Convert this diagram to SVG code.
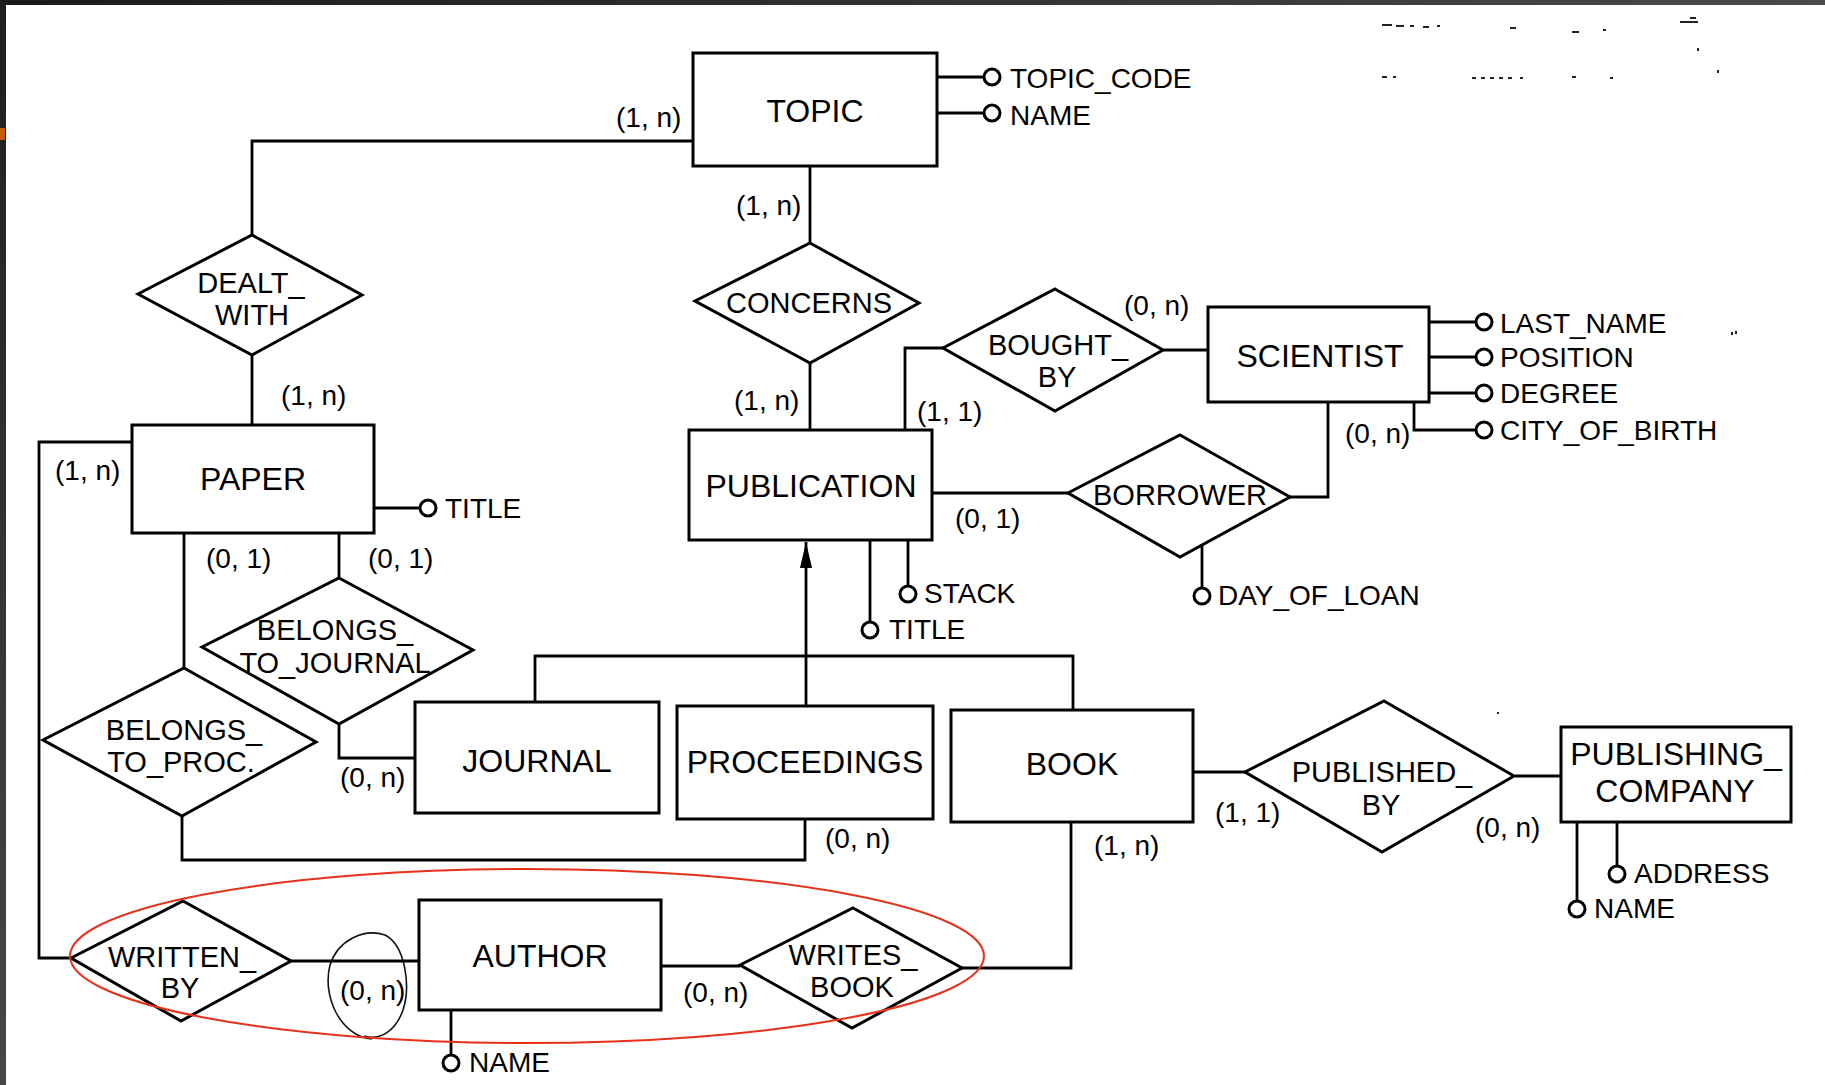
<svg xmlns="http://www.w3.org/2000/svg" width="1825" height="1085" viewBox="0 0 1825 1085">
<defs>
<style>
.box{fill:#fff;stroke:#000;stroke-width:3}
.dia{fill:#fff;stroke:#000;stroke-width:3;stroke-linejoin:miter}
.ln{fill:none;stroke:#000;stroke-width:2.8}
.att{fill:#fff;stroke:#000;stroke-width:3}
text{font-family:"Liberation Sans",Arial,Helvetica,sans-serif;fill:#000}
.en{font-size:32px;text-anchor:middle}
.rl{font-size:29px;text-anchor:middle}
.at{font-size:28px}
.cd{font-size:28px}
.noise{stroke:#222;stroke-width:2;fill:none}
</style>
<linearGradient id="topbar" x1="0" y1="0" x2="1" y2="0">
<stop offset="0" stop-color="#1a1a1a"/><stop offset="1" stop-color="#4a4a4a"/>
</linearGradient>
<linearGradient id="leftbar" x1="0" y1="0" x2="0" y2="1">
<stop offset="0" stop-color="#1e1e1e"/><stop offset="1" stop-color="#474747"/>
</linearGradient>
<marker id="isa" markerUnits="userSpaceOnUse" markerWidth="26" markerHeight="12" viewBox="0 0 26 12" refX="26" refY="6" orient="auto">
<path d="M0,0 L26,6 L0,12 z" fill="#000"/>
</marker>
</defs>
<rect x="0" y="0" width="1825" height="1085" fill="#fff"/>
<rect x="0" y="0" width="1825" height="5" fill="url(#topbar)"/>
<rect x="0" y="0" width="6" height="1085" fill="url(#leftbar)"/>
<rect x="0" y="128" width="5" height="12" fill="#c85a10"/>

<g id="scan-noise">
<path class="noise" d="M1382,25 h10 M1396,26 h8 M1410,26 h4 M1423,27 h6 M1437,26 h3 M1510,28 h6 M1572,32 h7 M1603,30 h3 M1680,22 h18 M1690,18 h6 M1382,77 h5 M1393,77 h3 M1472,78 h4 M1481,78 h4 M1490,78 h4 M1499,78 h4 M1508,78 h4 M1520,78 h3 M1572,77 h4 M1610,78 h3 M1718,70 v3 M1698,48 v3 M1732,332 v3 M1736,331 v3 M1498,712 v2"/>
</g>

<g id="connectors">
<path class="ln" d="M252,235 V141 H693"/>
<path class="ln" d="M252,355 V425"/>
<path class="ln" d="M810,166 V243"/>
<path class="ln" d="M810,363 V430"/>
<path class="ln" d="M943,348 H905 V430"/>
<path class="ln" d="M1163,350 H1208"/>
<path class="ln" d="M932,493 H1068"/>
<path class="ln" d="M1290,497 H1328 V402"/>
<path class="ln" d="M806,706 V542" marker-end="url(#isa)"/>
<path class="ln" d="M535,702 V656 H1073 V710"/>
<path class="ln" d="M132,442 H39 V958 H71"/>
<path class="ln" d="M184,533 V668"/>
<path class="ln" d="M339,533 V578"/>
<path class="ln" d="M339,724 V758 H415"/>
<path class="ln" d="M182,816 V860 H805 V819"/>
<path class="ln" d="M291,961 H419"/>
<path class="ln" d="M661,966 H740"/>
<path class="ln" d="M962,968 H1071 V822"/>
<path class="ln" d="M1193,772 H1245"/>
<path class="ln" d="M1515,776 H1561"/>
<path class="ln" d="M937,77 H983 M937,113 H983"/>
<path class="ln" d="M1429,322 H1475 M1429,357 H1475 M1429,393 H1475 M1414,402 V430 H1475"/>
<path class="ln" d="M374,508 H419"/>
<path class="ln" d="M908,540 V585 M870,540 V621"/>
<path class="ln" d="M1202,545 V587"/>
<path class="ln" d="M1577,822 V900 M1617,822 V865"/>
<path class="ln" d="M451,1010 V1054"/>
</g>

<g id="attribute-circles">
<circle class="att" cx="992" cy="77" r="8"/>
<circle class="att" cx="992" cy="113" r="8"/>
<circle class="att" cx="1484" cy="322" r="8"/>
<circle class="att" cx="1484" cy="357" r="8"/>
<circle class="att" cx="1484" cy="393" r="8"/>
<circle class="att" cx="1484" cy="430" r="8"/>
<circle class="att" cx="428" cy="508" r="8"/>
<circle class="att" cx="908" cy="594" r="8"/>
<circle class="att" cx="870" cy="630" r="8"/>
<circle class="att" cx="1202" cy="596" r="8"/>
<circle class="att" cx="1577" cy="909" r="8"/>
<circle class="att" cx="1617" cy="874" r="8"/>
<circle class="att" cx="451" cy="1063" r="8"/>
</g>

<g id="TOPIC">
<rect class="box" x="693" y="53" width="244" height="113"/>
<text class="en" x="815" y="122">TOPIC</text>
<text class="at" x="1010" y="88">TOPIC_CODE</text>
<text class="at" x="1010" y="125">NAME</text>
</g>
<g id="PAPER">
<rect class="box" x="132" y="425" width="242" height="108"/>
<text class="en" x="253" y="490">PAPER</text>
<text class="at" x="445" y="518">TITLE</text>
</g>
<g id="PUBLICATION">
<rect class="box" x="689" y="430" width="243" height="110"/>
<text class="en" x="811" y="497">PUBLICATION</text>
<text class="at" x="924" y="603">STACK</text>
<text class="at" x="889" y="639">TITLE</text>
</g>
<g id="SCIENTIST">
<rect class="box" x="1208" y="307" width="221" height="95"/>
<text class="en" x="1320" y="367">SCIENTIST</text>
<text class="at" x="1500" y="333">LAST_NAME</text>
<text class="at" x="1500" y="367">POSITION</text>
<text class="at" x="1500" y="403">DEGREE</text>
<text class="at" x="1500" y="440">CITY_OF_BIRTH</text>
</g>
<g id="JOURNAL">
<rect class="box" x="415" y="702" width="244" height="111"/>
<text class="en" x="537" y="772">JOURNAL</text>
</g>
<g id="PROCEEDINGS">
<rect class="box" x="677" y="706" width="256" height="113"/>
<text class="en" x="805" y="773">PROCEEDINGS</text>
</g>
<g id="BOOK">
<rect class="box" x="951" y="710" width="242" height="112"/>
<text class="en" x="1072" y="775">BOOK</text>
</g>
<g id="PUBLISHING_COMPANY">
<rect class="box" x="1561" y="727" width="230" height="95"/>
<text class="en" x="1676" y="765">PUBLISHING_</text>
<text class="en" x="1675" y="802">COMPANY</text>
<text class="at" x="1634" y="883">ADDRESS</text>
<text class="at" x="1594" y="918">NAME</text>
</g>
<g id="AUTHOR">
<rect class="box" x="419" y="900" width="242" height="110"/>
<text class="en" x="540" y="967">AUTHOR</text>
<text class="at" x="469" y="1072">NAME</text>
</g>

<g id="DEALT_WITH">
<polygon class="dia" points="252,235 362,295 252,355 138,294"/>
<text class="rl" x="251" y="293">DEALT_</text>
<text class="rl" x="252" y="325">WITH</text>
</g>
<g id="CONCERNS">
<polygon class="dia" points="810,243 919,303 810,363 695,301"/>
<text class="rl" x="809" y="313">CONCERNS</text>
</g>
<g id="BOUGHT_BY">
<polygon class="dia" points="1055,289 1163,350 1055,411 943,348"/>
<text class="rl" x="1058" y="355">BOUGHT_</text>
<text class="rl" x="1057" y="387">BY</text>
</g>
<g id="BORROWER">
<polygon class="dia" points="1180,435 1290,497 1180,557 1068,493"/>
<text class="rl" x="1180" y="505">BORROWER</text>
</g>
<g id="BELONGS_TO_JOURNAL">
<polygon class="dia" points="339,578 473,650 339,724 202,647"/>
<text class="rl" x="335" y="640">BELONGS_</text>
<text class="rl" x="335" y="673">TO_JOURNAL</text>
</g>
<g id="BELONGS_TO_PROC">
<polygon class="dia" points="184,668 316,742 182,816 43,740"/>
<text class="rl" x="184" y="740">BELONGS_</text>
<text class="rl" x="181" y="772">TO_PROC.</text>
</g>
<g id="WRITTEN_BY">
<polygon class="dia" points="183,901 291,961 181,1021 71,958"/>
<text class="rl" x="182" y="967">WRITTEN_</text>
<text class="rl" x="180" y="998">BY</text>
</g>
<g id="WRITES_BOOK">
<polygon class="dia" points="853,908 962,968 852,1028 740,965"/>
<text class="rl" x="853" y="965">WRITES_</text>
<text class="rl" x="852" y="997">BOOK</text>
</g>
<g id="PUBLISHED_BY">
<polygon class="dia" points="1384,701 1514,776 1382,852 1245,772"/>
<text class="rl" x="1382" y="782">PUBLISHED_</text>
<text class="rl" x="1381" y="815">BY</text>
</g>

<g id="cardinalities">
<text class="cd" x="616" y="127">(1, n)</text>
<text class="cd" x="736" y="215">(1, n)</text>
<text class="cd" x="734" y="410">(1, n)</text>
<text class="cd" x="281" y="405">(1, n)</text>
<text class="cd" x="55" y="480">(1, n)</text>
<text class="cd" x="206" y="568">(0, 1)</text>
<text class="cd" x="368" y="568">(0, 1)</text>
<text class="cd" x="340" y="787">(0, n)</text>
<text class="cd" x="825" y="848">(0, n)</text>
<text class="cd" x="1094" y="855">(1, n)</text>
<text class="cd" x="917" y="421">(1, 1)</text>
<text class="cd" x="1124" y="315">(0, n)</text>
<text class="cd" x="955" y="528">(0, 1)</text>
<text class="cd" x="1345" y="443">(0, n)</text>
<text class="cd" x="1215" y="822">(1, 1)</text>
<text class="cd" x="1475" y="837">(0, n)</text>
<text class="cd" x="340" y="1000">(0, n)</text>
<text class="cd" x="683" y="1002">(0, n)</text>
<text class="at" x="1218" y="605">DAY_OF_LOAN</text>
</g>

<g id="annotations">
<path d="M372,1039 C340,1036 322,996 330,965 C338,940 364,928 385,935 C405,945 411,985 403,1010 C396,1030 381,1041 364,1036" fill="none" stroke="#111" stroke-width="1.6"/>
<ellipse cx="527" cy="956" rx="457" ry="87" fill="none" stroke="#e8311a" stroke-width="2"/>
</g>
</svg>
